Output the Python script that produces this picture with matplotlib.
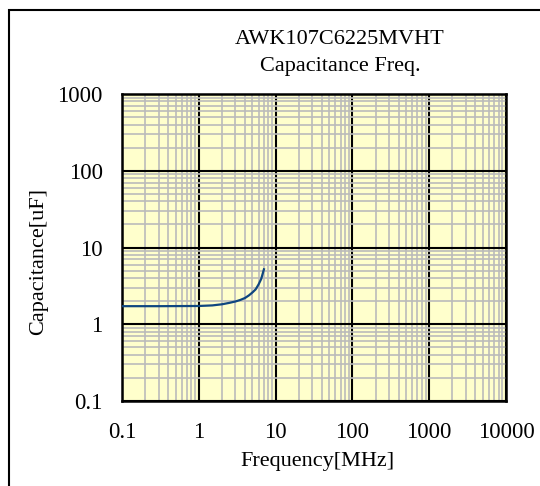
import matplotlib
matplotlib.use("Agg")
import matplotlib.pyplot as plt
from matplotlib.ticker import LogLocator, FixedLocator, FixedFormatter, NullFormatter
from matplotlib.patches import Rectangle

freq_mhz = [0.1, 0.3, 1, 1.5, 2, 2.5, 3, 3.5, 4, 4.5, 5, 5.5, 6, 6.5, 7.05]
cap_uf = [1.72, 1.72, 1.73, 1.76, 1.82, 1.9, 1.98, 2.08, 2.2, 2.38, 2.6, 2.85, 3.3, 3.9, 5.2]

x_ticks = [0.1, 1, 10, 100, 1000, 10000]
x_labels = ["0.1", "1", "10", "100", "1000", "10000"]
y_ticks = [0.1, 1, 10, 100, 1000]
y_labels = ["0.1", "1", "10", "100", "1000"]

title1 = "AWK107C6225MVHT"
title2 = "Capacitance Freq."
xlabel = "Frequency[MHz]"
ylabel = "Capacitance[uF]"

plt.rcParams['font.family'] = ['Liberation Serif', 'DejaVu Serif']

W, H = 540, 486
fig = plt.figure(figsize=(W / 100, H / 100), dpi=100)
fig.patch.set_facecolor("white")

# outer frame
fig.add_artist(Rectangle((9 / W, -0.1), 1.2, 1.1 - 10 / H, transform=fig.transFigure,
                         fill=False, edgecolor="black", linewidth=1.5))

ax = fig.add_axes([122 / W, 1 - 401 / H, 384 / W, 307 / H])
ax.set_facecolor("#FFFFCC")
ax.set_xscale("log")
ax.set_yscale("log")
ax.set_xlim(0.1, 10000)
ax.set_ylim(0.1, 1000)

ax.xaxis.set_major_locator(FixedLocator(x_ticks))
ax.xaxis.set_major_formatter(FixedFormatter(x_labels))
ax.yaxis.set_major_locator(FixedLocator(y_ticks))
ax.yaxis.set_major_formatter(FixedFormatter(y_labels))
ax.xaxis.set_minor_locator(LogLocator(base=10, subs=range(2, 10), numticks=20))
ax.yaxis.set_minor_locator(LogLocator(base=10, subs=range(2, 10), numticks=20))
ax.xaxis.set_minor_formatter(NullFormatter())
ax.yaxis.set_minor_formatter(NullFormatter())

ax.grid(which="minor", color="#BBBBBB", linewidth=1.2)
ax.grid(which="major", color="black", linewidth=1.5)
ax.set_axisbelow(True)

ax.tick_params(which="both", length=0)
ax.tick_params(axis="x", pad=15, labelsize=16.5)
ax.tick_params(axis="y", pad=14, labelsize=16.5)

for s in ax.spines.values():
    s.set_linewidth(1.8)
    s.set_color("black")

ax.plot(freq_mhz, cap_uf, color="#0F4680", linewidth=1.6, zorder=5)

fig.text(340 / W, 1 - 40 / H, title1, ha="center", va="center", fontsize=16)
fig.text(340 / W, 1 - 67 / H, title2, ha="center", va="center", fontsize=16)
fig.text(317 / W, 1 - 461 / H, xlabel, ha="center", va="center", fontsize=16)
fig.text(39 / W, 1 - 261 / H, ylabel, ha="center", va="center", rotation=90, fontsize=16)

fig.savefig("out.png", dpi=100)
